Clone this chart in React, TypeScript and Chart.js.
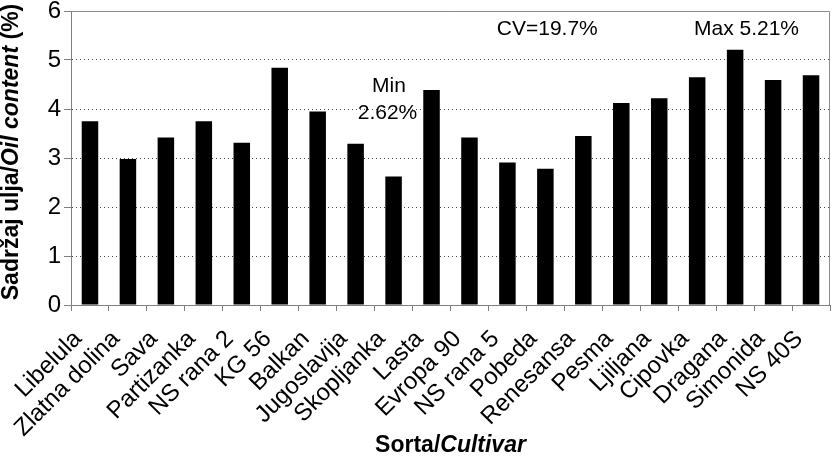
import React, { useEffect, useRef } from "react";
import { Chart, registerables } from "chart.js";

Chart.register(...registerables);

const categories: string[] = [
  "Libelula", "Zlatna dolina", "Sava", "Partizanka", "NS rana 2", "KG 56", "Balkan",
  "Jugoslavija", "Skopljanka", "Lasta", "Evropa 90", "NS rana 5", "Pobeda", "Renesansa",
  "Pesma", "Ljiljana", "Cipovka", "Dragana", "Simonida", "NS 40S",
];

const oilContent: number[] = [
  3.75, 2.98, 3.42, 3.75, 3.31, 4.84, 3.95, 3.29, 2.62, 4.39,
  3.42, 2.91, 2.78, 3.45, 4.12, 4.22, 4.65, 5.21, 4.59, 4.69,
];

const yTicks: number[] = [0, 1, 2, 3, 4, 5, 6];

const annotationTexts: string[] = ["CV=19.7%", "Max 5.21%", "Min", "2.62%"];
const annotationX: number[] = [12.05, 17.3, 7.88, 7.84];
const annotationY: number[] = [5.51, 5.51, 4.35, 3.8];

const yTitleParts: { text: string; italic: boolean }[] = [
  { text: "Sadržaj ulja/", italic: false },
  { text: "Oil content", italic: true },
  { text: " (%)", italic: false },
];
const xTitleParts: { text: string; italic: boolean }[] = [
  { text: "Sorta/", italic: false },
  { text: "Cultivar", italic: true },
];

const FONT = "'Liberation Sans', Arial, Helvetica, sans-serif";

function drawParts(ctx: CanvasRenderingContext2D, parts: { text: string; italic: boolean }[], size: number) {
  let total = 0;
  for (const p of parts) {
    ctx.font = `${p.italic ? "italic " : ""}bold ${size}px ${FONT}`;
    total += ctx.measureText(p.text).width;
  }
  let x = -total / 2;
  for (const p of parts) {
    ctx.font = `${p.italic ? "italic " : ""}bold ${size}px ${FONT}`;
    ctx.fillText(p.text, x, 0);
    x += ctx.measureText(p.text).width;
  }
}

const decorPlugin = {
  id: "decor",
  afterDraw(chart: any) {
    const { ctx, chartArea, scales } = chart;
    const xs = scales.x;
    const ys = scales.y;
    ctx.save();
    // frame
    ctx.strokeStyle = "#8a8a8a";
    ctx.lineWidth = 1;
    ctx.beginPath();
    ctx.moveTo(chartArea.left, chartArea.top + 0.5);
    ctx.lineTo(chartArea.right - 0.5, chartArea.top + 0.5);
    ctx.lineTo(chartArea.right - 0.5, chartArea.bottom);
    ctx.stroke();

    // annotations
    ctx.fillStyle = "#000";
    ctx.textAlign = "center";
    ctx.textBaseline = "alphabetic";
    ctx.font = `21px ${FONT}`;
    for (let i = 0; i < annotationTexts.length; i++) {
      ctx.fillText(annotationTexts[i], xs.getPixelForValue(annotationX[i]), ys.getPixelForValue(annotationY[i]));
    }

    // y title
    ctx.save();
    ctx.translate(18, 152);
    ctx.rotate(-Math.PI / 2);
    ctx.textAlign = "left";
    ctx.textBaseline = "alphabetic";
    drawParts(ctx, yTitleParts, 23);
    ctx.restore();

    // x title
    ctx.save();
    ctx.translate((chartArea.left + chartArea.right) / 2, 452);
    ctx.textAlign = "left";
    ctx.textBaseline = "alphabetic";
    drawParts(ctx, xTitleParts, 23);
    ctx.restore();

    ctx.restore();
  },
};

export default function App() {
  const ref = useRef<HTMLCanvasElement | null>(null);
  useEffect(() => {
    if (!ref.current) return;
    const chart = new Chart(ref.current, {
      type: "bar",
      data: {
        labels: categories,
        datasets: [
          {
            data: oilContent,
            backgroundColor: "#000",
            borderWidth: 0,
            barPercentage: 0.435,
            categoryPercentage: 1,
          },
        ],
      },
      options: {
        animation: false,
        responsive: false,
        devicePixelRatio: 1,
        layout: { padding: { top: 11, right: 6, left: 0, bottom: 0 } },
        plugins: { legend: { display: false }, tooltip: { enabled: false } },
        scales: {
          x: {
            type: "category",
            offset: true,
            grid: {
              drawOnChartArea: false,
              drawTicks: true,
              tickLength: 6,
              tickColor: "#808080",
              offset: true,
            },
            border: { display: true, color: "#808080" },
            ticks: {
              autoSkip: false,
              maxRotation: 45,
              minRotation: 45,
              color: "#000",
              padding: 14,
              labelOffset: -12,
              font: { family: FONT, size: 24 },
            },
            afterFit: (s: any) => {
              s.height = 151;
              s.paddingLeft = 0;
              s.paddingRight = 0;
              s.paddingTop = 0;
              s.paddingBottom = 0;
            },
          },
          y: {
            min: 0,
            max: 6,
            afterBuildTicks: (s: any) => {
              s.ticks = yTicks.map((v) => ({ value: v }));
            },
            grid: {
              color: "#444",
              lineWidth: 1,
              drawTicks: true,
              tickLength: 7,
              tickColor: "#808080",
            },
            border: { display: true, color: "#808080", dash: [1, 3] },
            ticks: {
              color: "#000",
              padding: 3,
              font: { family: FONT, size: 24 },
            },
            afterFit: (s: any) => {
              s.width = 71;
              s.paddingTop = 0;
              s.paddingBottom = 0;
            },
          },
        },
      },
      plugins: [decorPlugin],
    });
    return () => chart.destroy();
  }, []);
  return (
    <div style={{ position: "absolute", left: 0, top: 0, width: 836, height: 456, background: "#fff" }}>
      <canvas ref={ref} width={836} height={456} style={{ display: "block" }} />
    </div>
  );
}
